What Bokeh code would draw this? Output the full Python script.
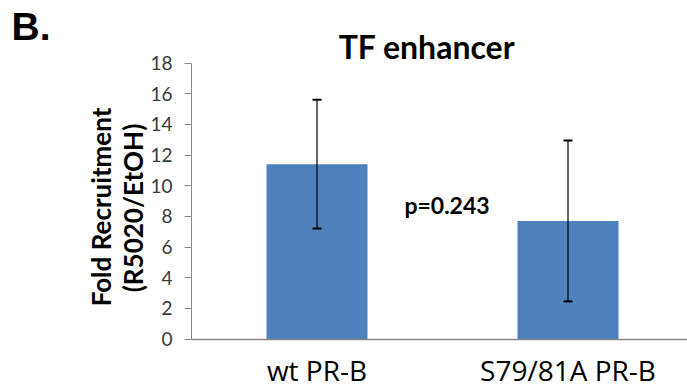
import math
from bokeh.plotting import figure
from bokeh.models import ColumnDataSource, Whisker, Label, FixedTicker, Range1d, TeeHead
from bokeh.embed import file_html
from bokeh.resources import INLINE

categories = ["wt PR-B", "S79/81A PR-B"]
values = [11.4, 7.7]
errors = [4.2, 5.25]
y_ticks = [0, 2, 4, 6, 8, 10, 12, 14, 16, 18]
y_label_lines = ["Fold Recruitment", "(R5020/EtOH)"]
p_text = "p=0.243"
title_text = "TF enhancer"
panel_text = "B."

FONT = "Lato"
BAR = "#4F81BD"
AX = "#868686"

W, H = 687, 391
AX_X, AX_Y0, AX_Y18 = 191.0, 338.5, 62.5   # pixel position of the axes
cat_w = 251.0                               # pixels per category
ppu = (AX_Y0 - AX_Y18) / 18.0               # pixels per y unit

def X(px):
    return (px - AX_X) / cat_w

def Y(py):
    return (AX_Y0 - py) / ppu

xpos = [i + 0.5 for i in range(len(categories))]
src = ColumnDataSource(dict(
    x=xpos, top=values,
    upper=[v + e for v, e in zip(values, errors)],
    lower=[v - e for v, e in zip(values, errors)],
))

p = figure(width=W, height=H, output_backend="svg", toolbar_location=None,
           x_range=Range1d(X(0), X(W)), y_range=Range1d(Y(H), Y(0)),
           min_border=0, min_border_left=0, min_border_right=0,
           min_border_top=0, min_border_bottom=0)
p.outline_line_color = None
p.grid.visible = False
p.background_fill_color = "white"
p.border_fill_color = "white"

p.vbar(x="x", top="top", width=101 / cat_w, source=src, fill_color=BAR, line_color=None)
w = Whisker(base="x", upper="upper", lower="lower", source=src,
            line_color="black", line_width=1.2, level="overlay",
            upper_head=TeeHead(size=9, line_color="black", line_width=2),
            lower_head=TeeHead(size=9, line_color="black", line_width=2))
p.add_layout(w)

yax = p.yaxis[0]
yax.fixed_location = 0
yax.bounds = (0, 18)
yax.ticker = FixedTicker(ticks=y_ticks)
yax.axis_line_color = AX
yax.major_tick_line_color = AX
yax.major_tick_out = 7
yax.major_tick_in = 0
yax.minor_tick_line_color = None
yax.major_label_text_font = FONT
yax.major_label_text_font_size = "19px"
yax.major_label_text_color = "#3a3a3a"
yax.major_label_standoff = 12

xax = p.xaxis[0]
xax.fixed_location = 0
xax.bounds = (0, X(W))
xax.ticker = FixedTicker(ticks=xpos)
xax.major_label_overrides = {x: c for x, c in zip(xpos, categories)}
xax.axis_line_color = AX
xax.axis_line_width = 1.5
xax.major_tick_line_color = None
xax.minor_tick_line_color = None
xax.major_label_text_font = "Open Sans"
xax.major_label_text_font_size = "28px"
xax.major_label_text_color = "black"
xax.major_label_standoff = 6

for line, (cx, cy) in zip(y_label_lines, [(100, 206.5), (132, 207.5)]):
    p.add_layout(Label(x=X(cx), y=Y(cy), text=line, angle=math.pi / 2, text_font=FONT,
                       text_font_style="bold", text_font_size="26px",
                       text_align="center", text_baseline="middle", text_color="black"))

p.add_layout(Label(x=X(426.5), y=Y(46), text=title_text,
                   text_font=FONT, text_font_style="bold", text_font_size="32px",
                   text_align="center", text_baseline="middle", text_color="black"))
p.add_layout(Label(x=X(446.5), y=Y(204), text=p_text,
                   text_font=FONT, text_font_style="bold", text_font_size="23px",
                   text_align="center", text_baseline="middle", text_color="black"))
p.add_layout(Label(x=X(11), y=Y(26), text=panel_text,
                   text_font="Liberation Sans", text_font_style="bold", text_font_size="39px",
                   text_align="left", text_baseline="middle", text_color="black"))

open("out.html", "w").write(file_html(p, INLINE))
